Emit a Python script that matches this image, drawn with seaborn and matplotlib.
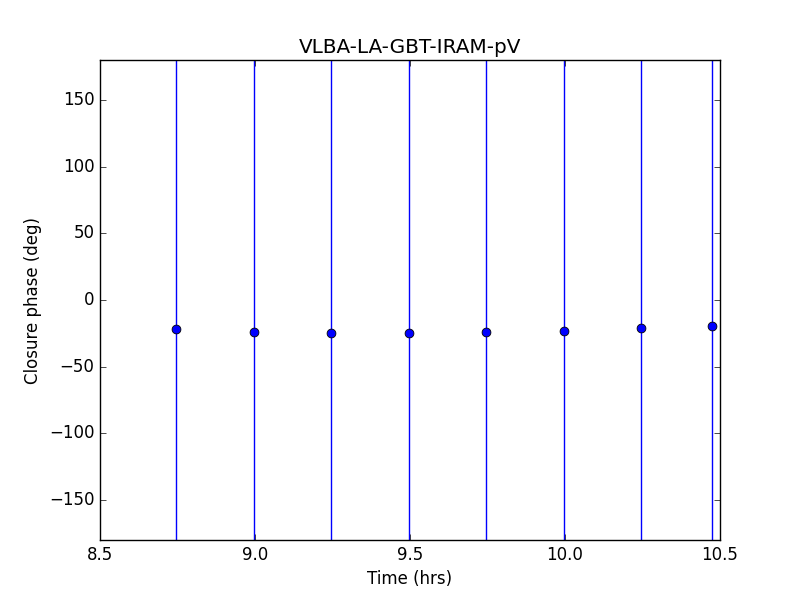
import numpy as np
import pandas as pd
import matplotlib
matplotlib.use('Agg')
import matplotlib.pyplot as plt
import seaborn as sns

# closure phase data
time_hrs = [8.745, 8.997, 9.245, 9.497, 9.745, 9.997, 10.245, 10.474]
phase_deg = [-21.8, -24.0, -24.8, -24.8, -24.0, -23.2, -21.0, -19.5]
phase_err = [400, 400, 400, 400, 400, 400, 400, 400]

df = pd.DataFrame({'time': time_hrs, 'phase': phase_deg, 'err': phase_err})

plt.style.use('classic')
fig, ax = plt.subplots(figsize=(8, 6), dpi=100)

ax.errorbar(df['time'], df['phase'], yerr=df['err'], fmt='none', ecolor='b', elinewidth=1, capsize=0)
sns.scatterplot(data=df, x='time', y='phase', ax=ax, color='b', edgecolor='black', linewidth=0.6, s=40, zorder=3)

ax.set_xlim(8.5, 10.5)
ax.set_ylim(-180, 180)
ax.set_xlabel('Time (hrs)')
ax.set_ylabel('Closure phase (deg)')
ax.set_title('VLBA-LA-GBT-IRAM-pV')

fig.savefig('out.png', dpi=100, facecolor='white')
